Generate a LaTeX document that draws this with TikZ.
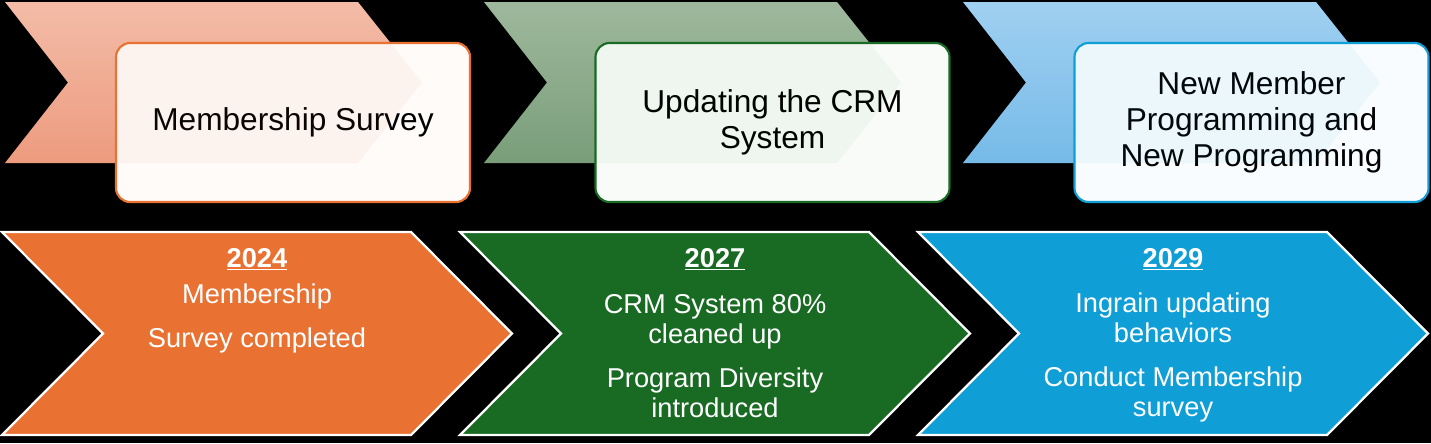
\documentclass[tikz,border=0pt]{standalone}
\usepackage{fontspec}
\setmainfont{Liberation Sans}
\definecolor{mOrange}{HTML}{E97132}
\definecolor{mGreen}{HTML}{196B24}
\definecolor{mBlue}{HTML}{0F9ED5}
\definecolor{mOrangeTop}{RGB}{244,192,174}
\definecolor{mOrangeBot}{RGB}{238,158,131}
\definecolor{mGreenTop}{RGB}{164,188,162}
\definecolor{mGreenBot}{RGB}{126,160,125}
\definecolor{mBlueTop}{RGB}{168,211,243}
\definecolor{mBlueBot}{RGB}{124,188,234}
\newcommand{\topchevron}{(5,2) -- (358,2) -- (422,82.5) -- (358,163) -- (5,163) -- (68,82.5) -- cycle}
\newcommand{\lowchevron}{(2,232) -- (411,232) -- (512,333.5) -- (411,435) -- (2,435) -- (103,333.5) -- cycle}
\tikzset{
phasebox/.style={rectangle,rounded corners=8pt,line width=1.2pt,minimum width=7.08cm,minimum height=3.18cm,inner sep=0pt,align=center,font=\fontsize{18}{20.5}\selectfont},
milestone/.style={draw=white,line width=1.3pt,line join=miter},
yeartext/.style={anchor=base,text=white,font=\fontsize{15.5}{17}\selectfont\bfseries},
goaltext/.style={anchor=base,text=white,align=center,font=\fontsize{15.5}{17}\selectfont}
}
\begin{document}
\begin{tikzpicture}[x=0.2mm,y=-0.2mm]
\path[use as bounding box,fill=black] (0,0) rectangle (1431,443);
% phases
\path[top color=mOrangeTop,bottom color=mOrangeBot] \topchevron;
\path[shift={(479,0)},top color=mGreenTop,bottom color=mGreenBot] \topchevron;
\path[shift={(958,0)},top color=mBlueTop,bottom color=mBlueBot] \topchevron;
\node[phasebox,draw=mOrange,fill=mOrange!3!white] (survey) at (293,122.5) {Membership Survey};
\node[phasebox,draw=mGreen,fill=mGreen!3!white] (crm) at (772.5,122.5) {Updating the CRM\\System};
\node[phasebox,draw=mBlue,fill=mBlue!3!white] (newprog) at (1251.5,122.5) {New Member\\Programming and\\New Programming};
\fill[mOrange,opacity=.05] \topchevron;
\fill[shift={(479,0)},mGreen,opacity=.04] \topchevron;
\fill[shift={(958,0)},mBlue,opacity=.05] \topchevron;
% milestones
\path[milestone,fill=mOrange] \lowchevron;
\path[milestone,fill=mGreen,shift={(458,0)}] \lowchevron;
\path[milestone,fill=mBlue,shift={(916,0)}] \lowchevron;
\node[yeartext] (y2024) at (257,267) {\underline{2024}};
\node[goaltext] (goals2024) at (257,347) {Membership\\[8pt]Survey completed};
\node[yeartext] (y2027) at (715,267) {\underline{2027}};
\node[goaltext] (goals2027) at (715,417) {CRM System 80\%\\cleaned up\\[8pt]Program Diversity\\introduced};
\node[yeartext] (y2029) at (1173,267) {\underline{2029}};
\node[goaltext] (goals2029) at (1173,416) {Ingrain updating\\behaviors\\[8pt]Conduct Membership\\survey};
\end{tikzpicture}
\end{document}
